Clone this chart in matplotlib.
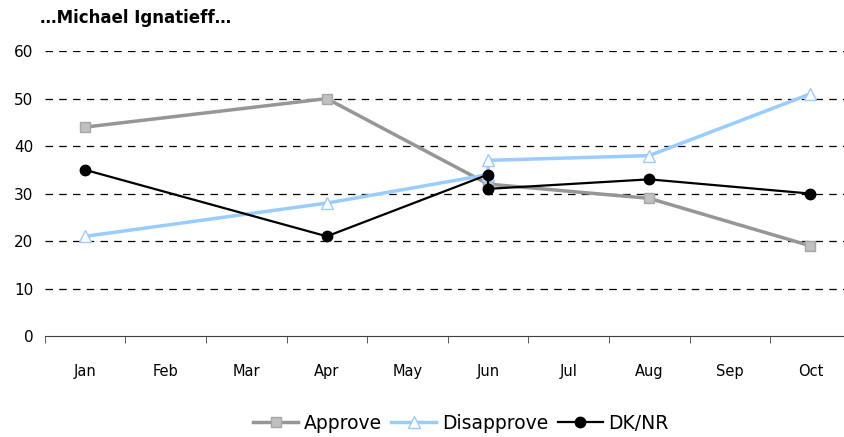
import numpy as np
import matplotlib.pyplot as plt

# Mois affichés sur l'axe
mois = ['Jan', 'Feb', 'Mar', 'Apr', 'May', 'Jun', 'Jul', 'Aug', 'Sep', 'Oct']

# Deux sondages en juin -> deux points au même mois
x_sondages = ['Jan', 'Apr', 'Jun', 'Jun', 'Aug', 'Oct']
approve = [44, 50, 32, 32, 29, 19]
disapprove = [21, 28, 34, 37, 38, 51]
dknr = [35, 21, 34, 31, 33, 30]

pos = [mois.index(m) for m in x_sondages]

fig = plt.figure(figsize=(8.44, 4.37), dpi=100)
ax = fig.add_axes([0.053, 0.231, 0.955, 0.652])

ax.plot(pos, approve, color='#969696', lw=2.5, marker='s', ms=7.5,
        mfc='#c0c0c0', mec='#a6a6a6', mew=1, label='Approve', zorder=3)
ax.plot(pos, disapprove, color='#99ccff', lw=2.5, marker='^', ms=9,
        mfc='white', mec='#99ccff', mew=1, label='Disapprove', zorder=4)
ax.plot(pos, dknr, color='black', lw=1.6, marker='o', ms=7.5,
        mfc='black', mec='black', label='DK/NR', zorder=5)

ax.set_ylim(0, 60)
ax.set_yticks(np.arange(0, 61, 10))
ax.set_xlim(-0.5, len(mois) - 0.5)
ax.set_xticks(range(len(mois)))
ax.set_xticklabels(mois)
ax.set_xticks(np.arange(-0.5, len(mois), 1), minor=True)
ax.tick_params(axis='x', which='major', length=0, pad=20, labelsize=10.5)
ax.tick_params(axis='x', which='minor', length=5, direction='out', color='#404040')
ax.tick_params(axis='y', length=0, labelsize=11, pad=8)

for y in range(10, 61, 10):
    ax.axhline(y, color='black', lw=0.9, ls=(0, (6, 5)), zorder=1)

for s in ['left', 'right', 'top']:
    ax.spines[s].set_visible(False)
ax.spines['bottom'].set_color('#404040')

fig.text(0.047, 0.958, '…Michael Ignatieff…', fontsize=12, fontweight='bold', va='center')

fig.legend(loc='center', bbox_to_anchor=(0.546, 0.032), ncol=3, frameon=False,
           fontsize=13.5, handlelength=2.4, columnspacing=0.5, handletextpad=0.3)

fig.savefig('out.png', dpi=100)
